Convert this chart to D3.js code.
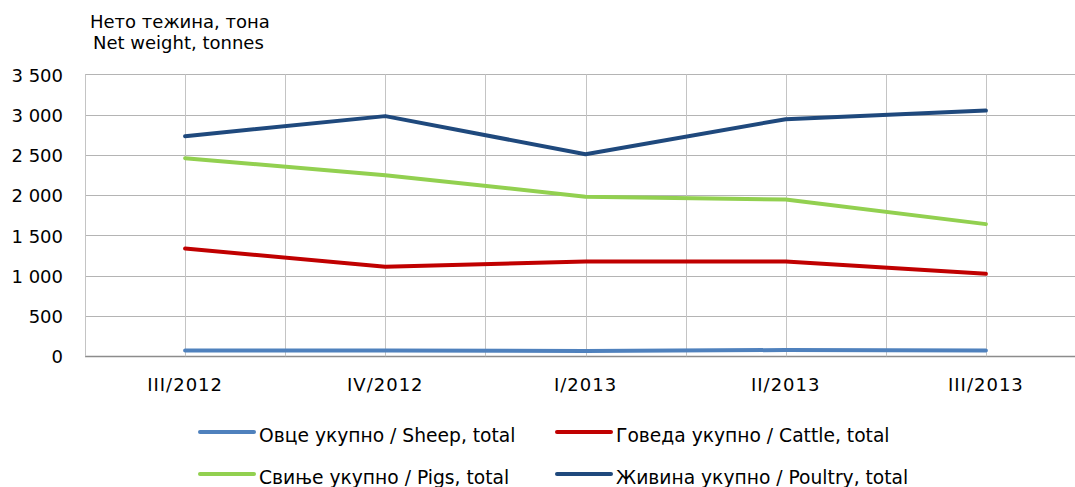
<!DOCTYPE html>
<html><head><meta charset="utf-8">
<script src="https://cdn.jsdelivr.net/npm/d3@7"></script>
<style>
html,body{margin:0;padding:0;background:#fff;}
svg{display:block;}
text{font-family:"DejaVu Sans",sans-serif;fill:#000;}
</style></head>
<body><svg id="c" width="1075" height="487"></svg>
<script>
const categories = ["III/2012","IV/2012","I/2013","II/2013","III/2013"];
const sheep   = [72, 72, 66, 78, 72];
const cattle  = [1338, 1112, 1177, 1177, 1024];
const pigs    = [2460, 2249, 1982, 1946, 1641];
const poultry = [2733, 2982, 2508, 2944, 3051];
const yTicks  = [0, 500, 1000, 1500, 2000, 2500, 3000, 3500];
const seriesNames = ["Овце укупно / Sheep, total","Говеда укупно / Cattle, total","Свиње укупно / Pigs, total","Живина укупно / Poultry, total"];
const seriesColors = ["#4F81BD","#C00000","#92D050","#1F497D"];
const titleLines = ["Нето тежина, тона","Net weight, tonnes"];

const series = [sheep, cattle, pigs, poultry].map((v,i)=>({name:seriesNames[i],color:seriesColors[i],values:v}));

const svg = d3.select("#c");
const x = d3.scaleBand().domain(categories).range([85, 1086]).padding(0);
const y = d3.scaleLinear().domain([0, 3500]).range([356.3, 74.4]);
const cx = c => x(c) + x.bandwidth()/2;

// gridlines horizontal
svg.append("g").selectAll("line").data(yTicks).join("line")
  .attr("x1", 85).attr("x2", 1075)
  .attr("y1", d=>Math.round(y(d))+0.5).attr("y2", d=>Math.round(y(d))+0.5)
  .attr("stroke", d=> d===0 ? "#8c8c8c" : "#b4b4b4").attr("stroke-width", d=> d===0?1.5:1);

// vertical gridlines at band edges and centers
const vx = [];
categories.forEach(c=>{ vx.push(x(c)); vx.push(cx(c)); });
svg.append("g").selectAll("line").data(vx).join("line")
  .attr("x1", d=>Math.round(d)+0.5).attr("x2", d=>Math.round(d)+0.5)
  .attr("y1", y(3500)).attr("y2", y(0))
  .attr("stroke", "#c4c4c4").attr("stroke-width", 1);

// y axis labels
const yAxis = d3.axisLeft(y).tickValues(yTicks).tickSize(0).tickPadding(0)
  .tickFormat(d=> d3.format(",")(d).replace(/,/g," "));
const ya = svg.append("g").attr("transform","translate(63,0)").call(yAxis);
ya.select(".domain").remove();
ya.selectAll("text").attr("font-family","DejaVu Sans").attr("font-size",18).attr("fill","#000").attr("dy","0.37em");

// x axis labels
const xAxis = d3.axisBottom(x).tickSize(0).tickPadding(0);
const xa = svg.append("g").attr("transform","translate(0,378)").call(xAxis);
xa.select(".domain").remove();
xa.selectAll("text").attr("font-family","DejaVu Sans").attr("font-size",18).attr("fill","#000")
  .attr("letter-spacing","1px").attr("dy","0.71em");

// lines
const line = d3.line().x((d,i)=>cx(categories[i])).y(d=>y(d));
svg.append("g").selectAll("path").data(series).join("path")
  .attr("d", d=>line(d.values)).attr("fill","none")
  .attr("stroke", d=>d.color).attr("stroke-width", 4)
  .attr("stroke-linejoin","round").attr("stroke-linecap","round");

// title
svg.append("text").attr("x",90).attr("y",28).attr("font-size",18).text(titleLines[0]);
svg.append("text").attr("x",93).attr("y",49).attr("font-size",18).text(titleLines[1]);

// legend
const legPos = [[200,432],[557,432],[200,474],[557,474]];
const lg = svg.append("g").selectAll("g").data(series).join("g")
  .attr("transform",(d,i)=>`translate(${legPos[i][0]},${legPos[i][1]})`);
lg.append("line").attr("x1",0).attr("x2",54).attr("y1",0).attr("y2",0)
  .attr("stroke",d=>d.color).attr("stroke-width",4).attr("stroke-linecap","round");
lg.append("text").attr("x",59).attr("y",9.5).attr("font-size",18.7).text(d=>d.name);
</script></body></html>
